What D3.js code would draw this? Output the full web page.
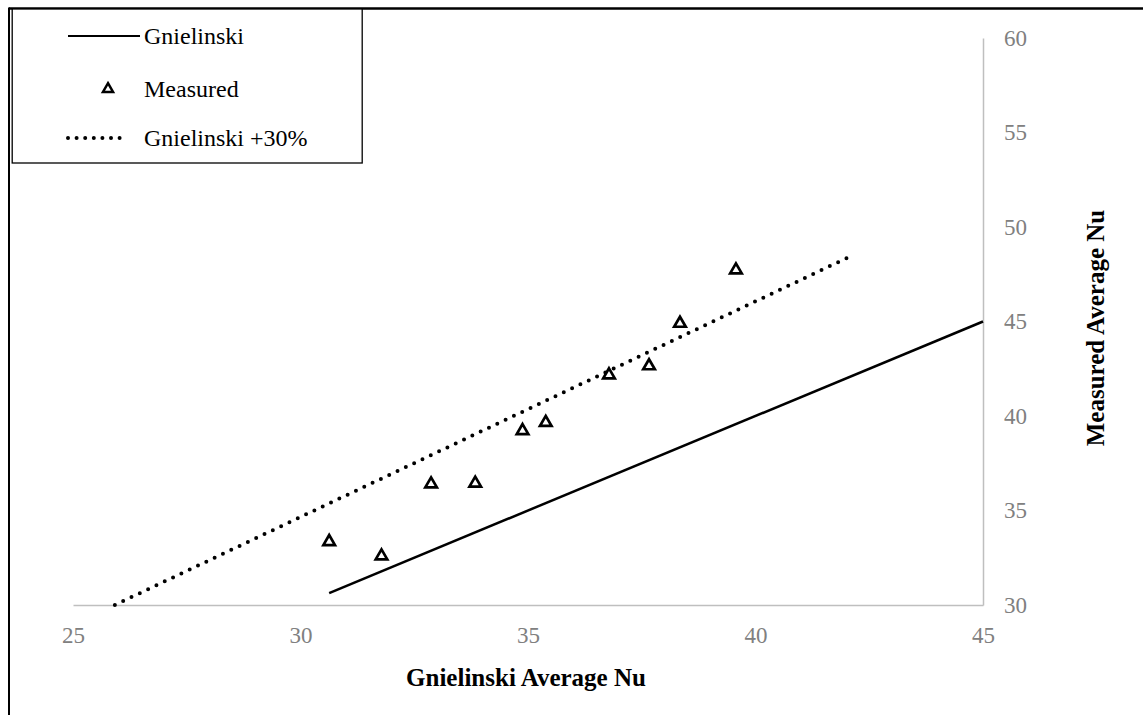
<!DOCTYPE html>
<html>
<head>
<meta charset="utf-8">
<script src="https://cdn.jsdelivr.net/npm/d3@7"></script>
<style>
  html, body { margin: 0; padding: 0; background: #fff; }
  svg { display: block; font-family: "Liberation Serif", "Times New Roman", serif; }
</style>
</head>
<body>
<svg id="chart" width="1143" height="715"></svg>
<script>
// ---- data ----
const measuredX = [30.63, 31.78, 32.87, 33.84, 34.88, 35.39, 36.78, 37.66, 38.34, 39.57];
const measuredY = [33.35, 32.59, 36.40, 36.44, 39.22, 39.65, 42.17, 42.65, 44.90, 47.72];
const gnielinskiX = [30.63, 45.0];
const gnielinskiY = [30.63, 45.0];
const plus30X = [25.92, 42.01];
const plus30Y = [30.0, 48.36];
const xTicks = [25, 30, 35, 40, 45];
const yTicks = [30, 35, 40, 45, 50, 55, 60];
const legendLabels = ["Gnielinski", "Measured", "Gnielinski +30%"];
const xTitle = "Gnielinski Average Nu";
const yTitle = "Measured Average Nu";

const svg = d3.select("#chart");
const x = d3.scaleLinear().domain([25, 45]).range([73, 983]);
const y = d3.scaleLinear().domain([30, 60]).range([605, 38]);

// outer frame (partial)
svg.append("line").attr("x1", 9).attr("x2", 1143).attr("y1", 8.5).attr("y2", 8.5)
  .attr("stroke", "#000").attr("stroke-width", 2.5);
svg.append("line").attr("x1", 9).attr("x2", 9).attr("y1", 7.5).attr("y2", 715)
  .attr("stroke", "#000").attr("stroke-width", 2);

// axes
const tickColor = "#808080";
const axisColor = "#bfbfbf";
const xAxis = d3.axisBottom(x).tickValues(xTicks).tickSize(0).tickPadding(22);
const gx = svg.append("g").attr("transform", `translate(0,${y(30)})`).call(xAxis);
gx.select(".domain").attr("stroke", axisColor).attr("stroke-width", 1.5);
gx.selectAll("text").attr("fill", tickColor).attr("font-size", 23)
  .attr("font-family", "Liberation Serif");

const yAxis = d3.axisRight(y).tickValues(yTicks).tickSize(0).tickPadding(21);
const gy = svg.append("g").attr("transform", `translate(${x(45)},0)`).call(yAxis);
gy.select(".domain").attr("stroke", axisColor).attr("stroke-width", 1.5);
gy.selectAll("text").attr("fill", tickColor).attr("font-size", 23)
  .attr("font-family", "Liberation Serif");

// titles
svg.append("text").attr("x", 526).attr("y", 686)
  .attr("text-anchor", "middle").attr("font-weight", "bold").attr("font-size", 25)
  .text(xTitle);
svg.append("text").attr("transform", `translate(1104,328) rotate(-90)`)
  .attr("text-anchor", "middle").attr("font-weight", "bold").attr("font-size", 25)
  .text(yTitle);

// lines
const line = d3.line().x(d => x(d[0])).y(d => y(d[1]));
svg.append("path").datum(gnielinskiX.map((v, i) => [v, gnielinskiY[i]]))
  .attr("d", line).attr("fill", "none").attr("stroke", "#000").attr("stroke-width", 2.5);
svg.append("path").datum(plus30X.map((v, i) => [v, plus30Y[i]]))
  .attr("d", line).attr("fill", "none").attr("stroke", "#000").attr("stroke-width", 4)
  .attr("stroke-linecap", "round").attr("stroke-dasharray", "0 9.2");

// measured points
const tri = d3.symbol().type(d3.symbolTriangle).size(58);
svg.append("g").selectAll("path").data(measuredX.map((v, i) => [v, measuredY[i]]))
  .join("path")
  .attr("transform", d => `translate(${x(d[0])},${y(d[1])})`)
  .attr("d", tri).attr("fill", "#fff").attr("stroke", "#000").attr("stroke-width", 2.7);

// legend
const lg = svg.append("g");
lg.append("rect").attr("x", 12.2).attr("y", 9).attr("width", 350).attr("height", 154)
  .attr("fill", "#fff").attr("stroke", "#000").attr("stroke-width", 1.3);
lg.append("line").attr("x1", 68).attr("x2", 140).attr("y1", 36).attr("y2", 36)
  .attr("stroke", "#000").attr("stroke-width", 2);
lg.append("path").attr("transform", "translate(108,89)").attr("d", d3.symbol().type(d3.symbolTriangle).size(44))
  .attr("fill", "#fff").attr("stroke", "#000").attr("stroke-width", 2.5);
lg.append("line").attr("x1", 68).attr("x2", 128).attr("y1", 138).attr("y2", 138)
  .attr("stroke", "#000").attr("stroke-width", 4).attr("stroke-linecap", "round")
  .attr("stroke-dasharray", "0 8.6");
[36, 89, 138].forEach((ly, i) => {
  lg.append("text").attr("x", 144).attr("y", ly).attr("dy", "0.35em")
    .attr("font-size", 24).attr("fill", "#000").text(legendLabels[i]);
});
</script>
</body>
</html>
